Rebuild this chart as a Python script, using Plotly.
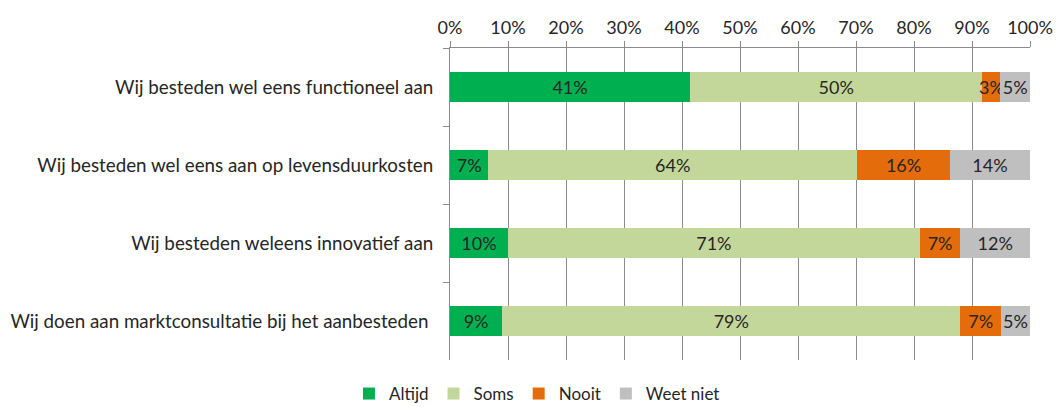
import plotly.graph_objects as go

# stellingen (top to bottom)
categories = [
    "Wij besteden wel eens functioneel aan",
    "Wij besteden wel eens aan op levensduurkosten",
    "Wij besteden weleens innovatief aan",
    "Wij doen aan marktconsultatie bij het aanbesteden ",
]

# percentages per answer
altijd = [41.4, 6.6, 10, 9]
soms = [50.4, 63.6, 71, 79]
nooit = [3.1, 16.0, 7, 7]
weet_niet = [5.1, 13.8, 12, 5]

series = [
    ("Altijd", altijd, "#00B050"),
    ("Soms", soms, "#C4D79B"),
    ("Nooit", nooit, "#E46C0A"),
    ("Weet niet", weet_niet, "#BFBFBF"),
]

FONT = "Lato"
TXT = "#262626"
GRID = "#8C8C8C"

fig = go.Figure()
for name, vals, col in series:
    fig.add_trace(go.Bar(
        name=name,
        y=categories,
        x=vals,
        orientation="h",
        marker=dict(color=col, line=dict(width=0)),
        texttemplate="%{x:.0f}%",
        textposition="inside",
        insidetextanchor="middle",
        textangle=0,
        constraintext="none",
        textfont=dict(family=FONT, size=18, color=TXT),
        hoverinfo="skip",
    ))

fig.update_layout(
    barmode="stack",
    bargap=0.62,
    width=1057,
    height=407,
    margin=dict(l=450, r=27, t=48, b=47),
    plot_bgcolor="white",
    paper_bgcolor="white",
    font=dict(family=FONT, size=18, color=TXT),
    legend=dict(
        orientation="h",
        xref="container", x=0.508, xanchor="center",
        yref="container", y=0.032, yanchor="middle",
        font=dict(family=FONT, size=17, color=TXT),
        traceorder="normal",
        itemwidth=30,
    ),
    xaxis=dict(
        side="top",
        range=[0, 100],
        tickvals=[0, 10, 20, 30, 40, 50, 60, 70, 80, 90, 100],
        ticktext=[f"{v}%" for v in range(0, 101, 10)],
        showgrid=True,
        gridcolor=GRID,
        gridwidth=1,
        showline=True,
        linecolor=GRID,
        ticks="outside",
        ticklen=6,
        tickcolor=GRID,
        zeroline=False,
        automargin=False,
        tickfont=dict(family=FONT, size=18, color=TXT),
    ),
    yaxis=dict(
        autorange="reversed",
        showline=True,
        linecolor=GRID,
        ticks="outside",
        tickson="boundaries",
        ticklen=6,
        tickcolor=GRID,
        ticklabelstandoff=12,
        showgrid=False,
        automargin=False,
        tickfont=dict(family=FONT, size=18.8, color=TXT),
    ),
)

# strip the default page margin so the figure sits at the window's corner
fig.write_html("out.html", config={"displayModeBar": False},
               post_script="document.body.style.margin='0';")
